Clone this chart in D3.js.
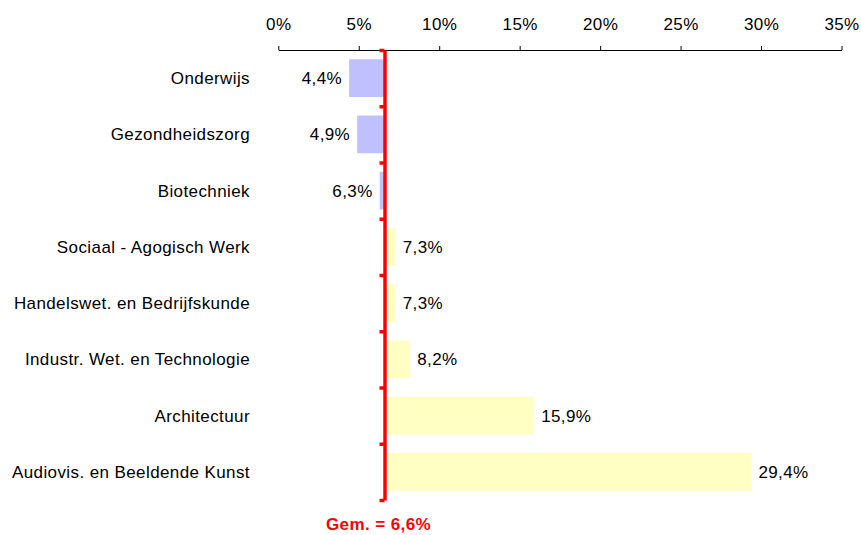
<!DOCTYPE html>
<html>
<head>
<meta charset="utf-8">
<script src="https://cdn.jsdelivr.net/npm/d3@7"></script>
<style>
  body { margin: 0; background: #fff; }
  svg { display: block; font-family: Arial, "Liberation Sans", sans-serif; letter-spacing: 0.4px; }
</style>
</head>
<body>
<svg width="861" height="535"></svg>
<script>
// chart data
const categories = [
  "Onderwijs",
  "Gezondheidszorg",
  "Biotechniek",
  "Sociaal - Agogisch Werk",
  "Handelswet. en Bedrijfskunde",
  "Industr. Wet. en Technologie",
  "Architectuur",
  "Audiovis. en Beeldende Kunst"
];
const values = [4.4, 4.9, 6.3, 7.3, 7.3, 8.2, 15.9, 29.4];
const average = 6.6;
const tickValues = [0, 5, 10, 15, 20, 25, 30, 35];

const width = 861;
const height = 535;
const margin = { top: 50, right: 19.5, bottom: 35, left: 278.3 };

const svg = d3.select("svg");

const x = d3.scaleLinear()
  .domain([0, 35])
  .range([margin.left, width - margin.right]);

const y = d3.scaleBand()
  .domain(categories)
  .range([margin.top, height - margin.bottom])
  .paddingInner(0.33)
  .paddingOuter(0.165);

const fmt = v => v.toFixed(1).replace(".", ",") + "%";

// top axis
const xAxis = svg.append("g")
  .attr("transform", `translate(0,${margin.top})`)
  .call(d3.axisTop(x).tickValues(tickValues).tickSize(4).tickPadding(16)
    .tickSizeOuter(0).tickFormat(d => d + "%"));
xAxis.selectAll("text").attr("font-size", 17).attr("fill", "#000");
xAxis.selectAll("line, path").attr("stroke", "#000");

// bars between average and value
svg.append("g").selectAll("rect")
  .data(categories)
  .join("rect")
  .attr("x", (d, i) => x(Math.min(values[i], average)))
  .attr("y", d => y(d))
  .attr("width", (d, i) => Math.abs(x(values[i]) - x(average)))
  .attr("height", y.bandwidth())
  .attr("fill", (d, i) => values[i] < average ? "#c0c0ff" : "#ffffc4");

// value labels
svg.append("g").selectAll("text")
  .data(categories)
  .join("text")
  .attr("x", (d, i) => values[i] < average ? x(values[i]) - 7 : x(values[i]) + 7)
  .attr("y", d => y(d) + y.bandwidth() / 2)
  .attr("dy", "0.35em")
  .attr("text-anchor", (d, i) => values[i] < average ? "end" : "start")
  .attr("font-size", 17)
  .text((d, i) => fmt(values[i]));

// category labels
svg.append("g").selectAll("text")
  .data(categories)
  .join("text")
  .attr("x", 250)
  .attr("y", d => y(d) + y.bandwidth() / 2)
  .attr("dy", "0.35em")
  .attr("text-anchor", "end")
  .attr("font-size", 17)
  .text(d => d);

// average line with category boundary ticks
const yb = d3.scaleLinear()
  .domain([0, categories.length])
  .range([margin.top, height - margin.bottom]);

const avgAxis = svg.append("g")
  .attr("transform", `translate(${x(average)},0)`)
  .call(d3.axisLeft(yb).tickValues(d3.range(categories.length + 1))
    .tickSize(5).tickSizeOuter(0).tickFormat(""));
avgAxis.selectAll("line, path")
  .attr("stroke", "#ff0000")
  .attr("stroke-width", 3.5);

svg.append("text")
  .attr("x", x(average) - 6)
  .attr("y", 530)
  .attr("text-anchor", "middle")
  .attr("font-size", 17)
  .attr("font-weight", "bold")
  .attr("fill", "#ff0000")
  .text("Gem. = " + fmt(average));
</script>
</body>
</html>
